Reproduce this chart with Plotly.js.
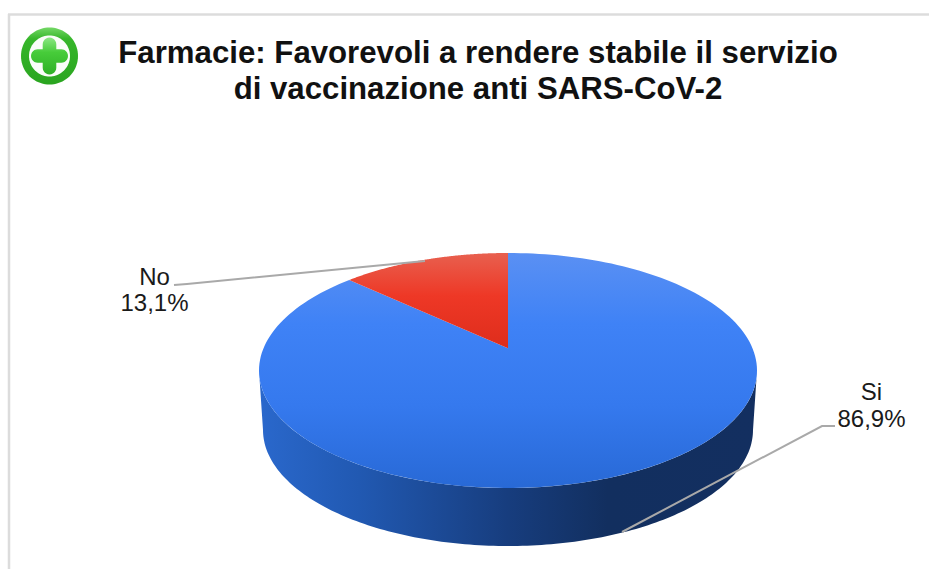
<!DOCTYPE html>
<html>
<head>
<meta charset="utf-8">
<script src="https://cdn.plot.ly/plotly-3.0.1.min.js"></script>
<style>html,body{margin:0;padding:0;background:#fff;overflow:hidden}#chart{width:929px;height:569px}</style>
</head>
<body>
<div id="chart"></div>
<script>
// ---- data ----
const categories = ['Si', 'No'];
const values = [86.9, 13.1];
const chartTitle = 'Farmacie: Favorevoli a rendere stabile il servizio<br>di vaccinazione anti SARS-CoV-2';
const labelX = {Si: 871.5, No: 154.5};
const labelNameY = {Si: 394, No: 279};
const labelValueY = {Si: 421, No: 305};
const leaderX = {Si: [835, 822, 622], No: [174, 187, 425]};
const leaderY = {Si: [426, 426, 532], No: [285, 284, 261]};
const sliceColors = {
  Si: [[0, '#5a90f3'], [0.3, '#3f82f6'], [0.65, '#3579ee'], [1, '#2869d6']],
  No: [[0, '#e8604f'], [0.45, '#ee3826'], [1, '#de2d1c']]
};
const wallColors = [[0, '#2a68cc'], [0.2, '#2159b2'], [0.5, '#173d7e'], [0.7, '#122f5f'], [1, '#132f60']];
const badgeRing = [[0, '#74d866'], [0.2, '#36b62a'], [1, '#2aa520']];
const badgePlus = [[0, '#8ce884'], [0.4, '#47cc3a'], [1, '#2eb026']];

// vertical gradients run bottom-to-top in the reversed pixel axis
const flip = s => s.map(([p, c]) => [1 - p, c]).reverse();

// ---- pie geometry (perspective view of a disc) ----
const cx = 508, cy = 370.5, rx = 249, ry = 117.5, tilt = 0.19;
const bx = 508, by = 430, brx = 245, bry = 116;

function rim(deg) {
  const a = deg * Math.PI / 180, u = Math.sin(a), v = Math.cos(a);
  const d = 1 + tilt * v;
  return [cx + rx * u * Math.sqrt(1 - tilt * tilt) / d, cy - ry * (v + tilt) / d];
}
function range(from, to, n) {
  const out = [];
  for (let i = 0; i <= n; i++) out.push(from + (to - from) * i / n);
  return out;
}
function sliceTrace(name, startDeg, endDeg) {
  const pts = range(startDeg, endDeg, 180).map(rim);
  const apex = [cx, cy - ry * tilt];
  const xs = [apex[0]].concat(pts.map(p => p[0]), [apex[0]]);
  const ys = [apex[1]].concat(pts.map(p => p[1]), [apex[1]]);
  return {x: xs, y: ys, type: 'scatter', mode: 'none', fill: 'toself', hoverinfo: 'skip', showlegend: false,
    fillgradient: {type: 'vertical', colorscale: flip(sliceColors[name])}};
}
function loop(x0, y0, rxx, ryy, from, to, n) {
  return range(from, to, n).map(t => [x0 + rxx * Math.cos(t), y0 + ryy * Math.sin(t)]);
}

// side wall: front half of the top rim, then the lower rim back again
const wallTop = loop(cx, cy, rx, ry, 0, Math.PI, 160);
const wallBottom = loop(bx, by, brx, bry, Math.PI, 0, 160);
const wall = wallTop.concat(wallBottom);
const traces = [{
  x: wall.map(p => p[0]), y: wall.map(p => p[1]), type: 'scatter', mode: 'none', fill: 'toself',
  hoverinfo: 'skip', showlegend: false,
  fillgradient: {type: 'horizontal', colorscale: wallColors}
}];

// top face, slices run clockwise for Si and anticlockwise for No from 12 o'clock
const total = values.reduce((a, b) => a + b, 0);
const noSweep = values[categories.indexOf('No')] / total * 360;
traces.push(sliceTrace('Si', 0, 360 - noSweep));
traces.push(sliceTrace('No', 360 - noSweep, 360));

// leader lines and labels
categories.forEach((c, i) => {
  traces.push({x: leaderX[c], y: leaderY[c], type: 'scatter', mode: 'lines', hoverinfo: 'skip', showlegend: false,
    line: {color: '#a9a9a9', width: 2}});
  traces.push({
    x: [labelX[c], labelX[c]], y: [labelNameY[c], labelValueY[c]],
    text: [c, values[i].toFixed(1).replace('.', ',') + '%'],
    type: 'scatter', mode: 'text', textposition: 'middle center', hoverinfo: 'skip', showlegend: false,
    textfont: {family: 'Liberation Sans, Arial, sans-serif', size: 24, color: '#1a1a1a'}
  });
});

// green "plus" badge
const badgeX = 49.5, badgeY = 56;
const outer = loop(badgeX, badgeY, 28.5, 28.5, 0, 2 * Math.PI, 80);
const inner = loop(badgeX, badgeY, 20.5, 20.5, 0, 2 * Math.PI, 80);
function plusOutline(arm, half) {
  const pts = [];
  [0, 1, 2, 3].forEach(q => {
    const a = q * Math.PI / 2, c = Math.cos(a), s = Math.sin(a);
    const template = [[-half, -half]].concat(
      range(Math.PI, 2 * Math.PI, 12).map(t => [half * Math.cos(t), -(arm - half) + half * Math.sin(t)]));
    template.forEach(p => pts.push([badgeX + p[0] * c - p[1] * s, badgeY + p[0] * s + p[1] * c]));
  });
  pts.push(pts[0]);
  return pts;
}
const plus = plusOutline(18.5, 6.8);
traces.push({x: outer.map(p => p[0]), y: outer.map(p => p[1]), type: 'scatter', mode: 'none', fill: 'toself',
  hoverinfo: 'skip', showlegend: false,
  fillgradient: {type: 'vertical', colorscale: flip(badgeRing)}});
traces.push({x: inner.map(p => p[0]), y: inner.map(p => p[1]), type: 'scatter', mode: 'none', fill: 'toself',
  fillcolor: '#fafdf9', hoverinfo: 'skip', showlegend: false});
traces.push({x: plus.map(p => p[0]), y: plus.map(p => p[1]), type: 'scatter', mode: 'none', fill: 'toself',
  hoverinfo: 'skip', showlegend: false,
  fillgradient: {type: 'vertical', colorscale: flip(badgePlus)}});

const titleSize = 31.2, titleLineGap = 36;
const layout = {
  width: 929, height: 569,
  margin: {l: 0, r: 0, t: 0, b: 0},
  paper_bgcolor: '#ffffff', plot_bgcolor: '#ffffff',
  showlegend: false,
  title: {
    text: '<b>' + chartTitle.replace('<br>', '</b><br><b>') + '</b>',
    x: 478 / 929, xanchor: 'center', xref: 'paper',
    y: 1 - 62.5 / 569, yanchor: 'middle', yref: 'container',
    font: {family: 'Liberation Sans, Arial, sans-serif', size: titleSize, color: '#111111'}
  },
  xaxis: {range: [0, 929], visible: false, fixedrange: true},
  yaxis: {range: [569, 0], visible: false, fixedrange: true},
  shapes: [
    {type: 'line', xref: 'x', yref: 'y', x0: 8, x1: 929, y0: 14.5, y1: 14.5, line: {color: '#dcdcdc', width: 2.5}},
    {type: 'line', xref: 'x', yref: 'y', x0: 9, x1: 9, y0: 14, y1: 569, line: {color: '#dcdcdc', width: 2.5}}
  ]
};
Plotly.newPlot('chart', traces, layout, {displayModeBar: false, staticPlot: true}).then(gd => {
  // the reference's title lines sit closer together than Plotly's fixed line height
  const lines = gd.querySelectorAll('.gtitle tspan.line');
  if (lines.length > 1) lines[1].setAttribute('dy', (titleLineGap / titleSize) + 'em');
});
</script>
</body>
</html>
